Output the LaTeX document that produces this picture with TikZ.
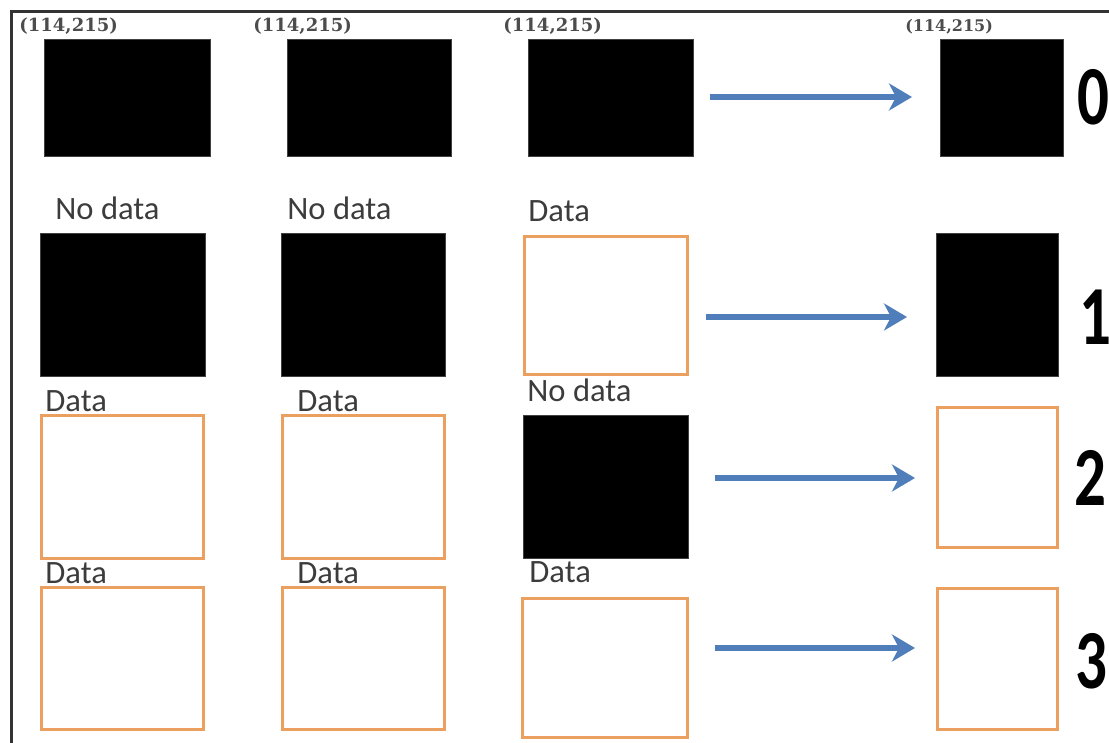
\documentclass[tikz,border=0pt]{standalone}
\usepackage{fontspec}
\usepackage{graphicx}
\setmainfont{Carlito}
\newfontfamily\coordfont{DejaVu Serif}
\usetikzlibrary{arrows.meta,fit}
\definecolor{cellorange}{RGB}{236,160,96}
\definecolor{flowblue}{RGB}{79,126,186}
\definecolor{labelgray}{RGB}{60,60,60}
\begin{document}
\begin{tikzpicture}[x=0.5pt,y=-0.5pt,
  nodata/.style={fill=black,draw=black!75,line width=0.5pt,inner sep=0pt,outer sep=0pt},
  hasdata/.style={fill=white,draw=cellorange,line width=1.5pt,inner sep=0pt,outer sep=0pt},
  tag/.style={anchor=base west,inner sep=0pt,text=labelgray,font=\fontsize{16.3}{18}\selectfont},
  coordtag/.style={anchor=base west,inner sep=0pt,text=black!70,font=\coordfont\bfseries\fontsize{9}{11}\selectfont},
  level/.style={anchor=base west,inner sep=0pt,text=black,font=\fontsize{42}{44}\selectfont\bfseries},
  flow/.style={draw=flowblue,line width=2.6pt,-{Stealth[length=11.5pt,width=13.5pt,inset=3.5pt]}},
  frame/.style={draw=black!80,line width=1.5pt}]
\useasboundingbox (0,0) rectangle (1109,743);
\clip (0,0) rectangle (1109,743);

% outer frame, running past the right and bottom edges
\draw[frame] (11,770) -- (11,12) -- (1130,12);

% row 0
\node[nodata, fit={(44,40) (210,157)}] (r0c1) {};
\node[nodata, fit={(287,40) (451,157)}] (r0c2) {};
\node[nodata, fit={(528,40) (693,157)}] (r0c3) {};
\node[nodata, fit={(940,40) (1063,157)}] (r0c4) {};
\node[coordtag] (t0c1) at (19,32) {(114,215)};
\node[coordtag] (t0c2) at (253,32) {(114,215)};
\node[coordtag] (t0c3) at (503,32) {(114,215)};
\node[coordtag, font=\coordfont\bfseries\fontsize{8}{10}\selectfont] (t0c4) at (905,32) {(114,215)};
\node[level] (n0) at (1077,125) {\scalebox{0.75}[1]{0}};

% row 1
\node[nodata, fit={(40,234) (205,377)}] (r1c1) {};
\node[nodata, fit={(281,234) (445,377)}] (r1c2) {};
\node[hasdata, fit={(524,237) (687,375)}] (r1c3) {};
\node[nodata, fit={(936,234) (1058,377)}] (r1c4) {};
\node[tag] (t1c1) at (55,220) {No data};
\node[tag] (t1c2) at (287,220) {No data};
\node[tag] (t1c3) at (528,222) {Data};
\node[level] (n1) at (1079,345) {\scalebox{0.75}[1]{1}};

% row 2
\node[hasdata, fit={(41,415) (203,558)}] (r2c1) {};
\node[hasdata, fit={(282,415) (444,558)}] (r2c2) {};
\node[nodata, fit={(523,415) (688,558)}] (r2c3) {};
\node[hasdata, fit={(937,407) (1057,547)}] (r2c4) {};
\node[tag] (t2c1) at (45,411) {Data};
\node[tag] (t2c2) at (297,411) {Data};
\node[tag] (t2c3) at (527,401) {No data};
\node[level] (n2) at (1074,505) {\scalebox{0.75}[1]{2}};

% row 3
\node[hasdata, fit={(41,587) (203,729)}] (r3c1) {};
\node[hasdata, fit={(282,587) (444,729)}] (r3c2) {};
\node[hasdata, fit={(522,598) (687,737)}] (r3c3) {};
\node[hasdata, fit={(937,588) (1057,729)}] (r3c4) {};
\node[tag] (t3c1) at (45,583) {Data};
\node[tag] (t3c2) at (297,583) {Data};
\node[tag] (t3c3) at (529,582) {Data};
\node[level] (n3) at (1075,688) {\scalebox{0.75}[1]{3}};

% arrow heights for each row
\coordinate (y0) at (0,97);
\coordinate (y1) at (0,317);
\coordinate (y2) at (0,478);
\coordinate (y3) at (0,648);

\draw[flow, shorten <=8.5pt, shorten >=14pt] (r0c3.east |- y0) -- (r0c4.west |- y0);
\draw[flow, shorten <=9.5pt, shorten >=14.5pt] (r1c3.east |- y1) -- (r1c4.west |- y1);
\draw[flow, shorten <=13.5pt, shorten >=11pt] (r2c3.east |- y2) -- (r2c4.west |- y2);
\draw[flow, shorten <=14pt, shorten >=11pt] (r3c3.east |- y3) -- (r3c4.west |- y3);
\end{tikzpicture}
\end{document}
